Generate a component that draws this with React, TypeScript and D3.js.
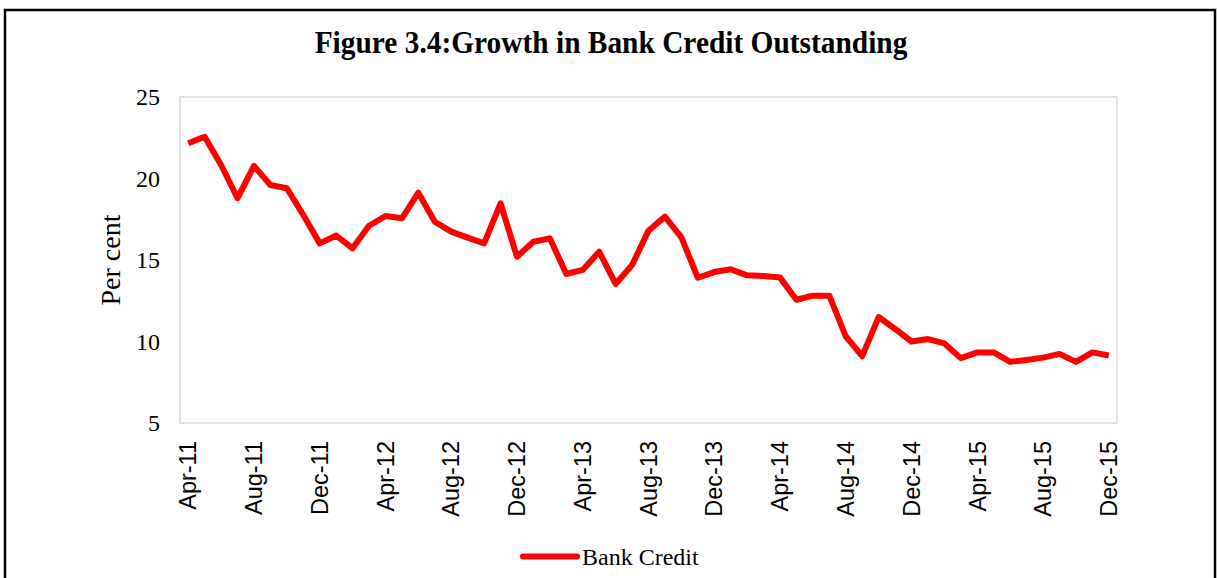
import React from "react";
import * as d3 from "d3";

const months = [
  "Apr-11","May-11","Jun-11","Jul-11","Aug-11","Sep-11","Oct-11","Nov-11","Dec-11",
  "Jan-12","Feb-12","Mar-12","Apr-12","May-12","Jun-12","Jul-12","Aug-12","Sep-12","Oct-12","Nov-12","Dec-12",
  "Jan-13","Feb-13","Mar-13","Apr-13","May-13","Jun-13","Jul-13","Aug-13","Sep-13","Oct-13","Nov-13","Dec-13",
  "Jan-14","Feb-14","Mar-14","Apr-14","May-14","Jun-14","Jul-14","Aug-14","Sep-14","Oct-14","Nov-14","Dec-14",
  "Jan-15","Feb-15","Mar-15","Apr-15","May-15","Jun-15","Jul-15","Aug-15","Sep-15","Oct-15","Nov-15","Dec-15",
];

const bankCredit = [
  22.16, 22.56, 20.83, 18.79, 20.77, 19.6, 19.4, 17.76, 16.02,
  16.5, 15.72, 17.1, 17.7, 17.56, 19.13, 17.35, 16.74, 16.37, 16.02, 18.48, 15.2,
  16.12, 16.33, 14.14, 14.39, 15.51, 13.53, 14.69, 16.8, 17.66, 16.39, 13.91, 14.26,
  14.43, 14.06, 14.02, 13.92, 12.56, 12.81, 12.81, 10.32, 9.1, 11.5, 10.77, 10.0,
  10.15, 9.88, 8.98, 9.33, 9.33, 8.75, 8.87, 9.01, 9.24, 8.75, 9.33, 9.14,
];

const yTicks = [5, 10, 15, 20, 25];
const xTickLabels = months.filter((_, i) => i % 4 === 0);

const title = "Figure 3.4:Growth in Bank Credit Outstanding";
const yTitle = "Per cent";
const seriesName = "Bank Credit";

export default function App() {
  const W = 1218, H = 578;
  const left = 180, right = 1117, top = 97, bottom = 423;
  const x = d3.scaleBand<string>().domain(months).range([left, right]).padding(0);
  const y = d3.scaleLinear().domain([5, 25]).range([bottom, top]);
  const cx = (m: string) => (x(m) as number) + x.bandwidth() / 2;
  const line = d3
    .line<number>()
    .x((_, i) => cx(months[i]))
    .y((v) => y(v));
  const serif = "'Liberation Serif', 'Times New Roman', serif";
  const sans = "'Liberation Sans', Arial, sans-serif";

  return (
    <div style={{ position: "absolute", left: 0, top: 0 }}>
      <svg width={W} height={H} style={{ display: "block", background: "#fff" }}>
        <rect x={5} y={10} width={1210} height={620} fill="#fff" stroke="#000" strokeWidth={2.5} />
        <text
          transform="translate(611, 53) scale(1, 1.1)"
          textAnchor="middle"
          fontFamily={serif}
          fontWeight="bold"
          fontSize={29.4}
        >
          {title}
        </text>
        <rect x={left} y={top} width={right - left} height={bottom - top} fill="none" stroke="#d9d9d9" strokeWidth={1.5} />
        {yTicks.map((t) => (
          <text key={t} x={160} y={y(t)} dy="0.35em" textAnchor="end" fontFamily={serif} fontSize={24}>
            {t}
          </text>
        ))}
        <text
          transform={`translate(120, 260) rotate(-90)`}
          textAnchor="middle"
          fontFamily={serif}
          fontSize={28}
        >
          {yTitle}
        </text>
        {xTickLabels.map((m) => (
          <text
            key={m}
            transform={`translate(${cx(m)}, 441) rotate(-90)`}
            textAnchor="end"
            dy="0.35em"
            fontFamily={sans}
            fontSize={23.5}
          >
            {m}
          </text>
        ))}
        <path d={line(bankCredit) || ""} fill="none" stroke="#ff0000" strokeWidth={6} strokeLinejoin="round" />
        <line x1={523} x2={577} y1={556.5} y2={556.5} stroke="#ff0000" strokeWidth={6} strokeLinecap="round" />
        <text x={582} y={565} fontFamily={serif} fontSize={24}>
          {seriesName}
        </text>
      </svg>
    </div>
  );
}
